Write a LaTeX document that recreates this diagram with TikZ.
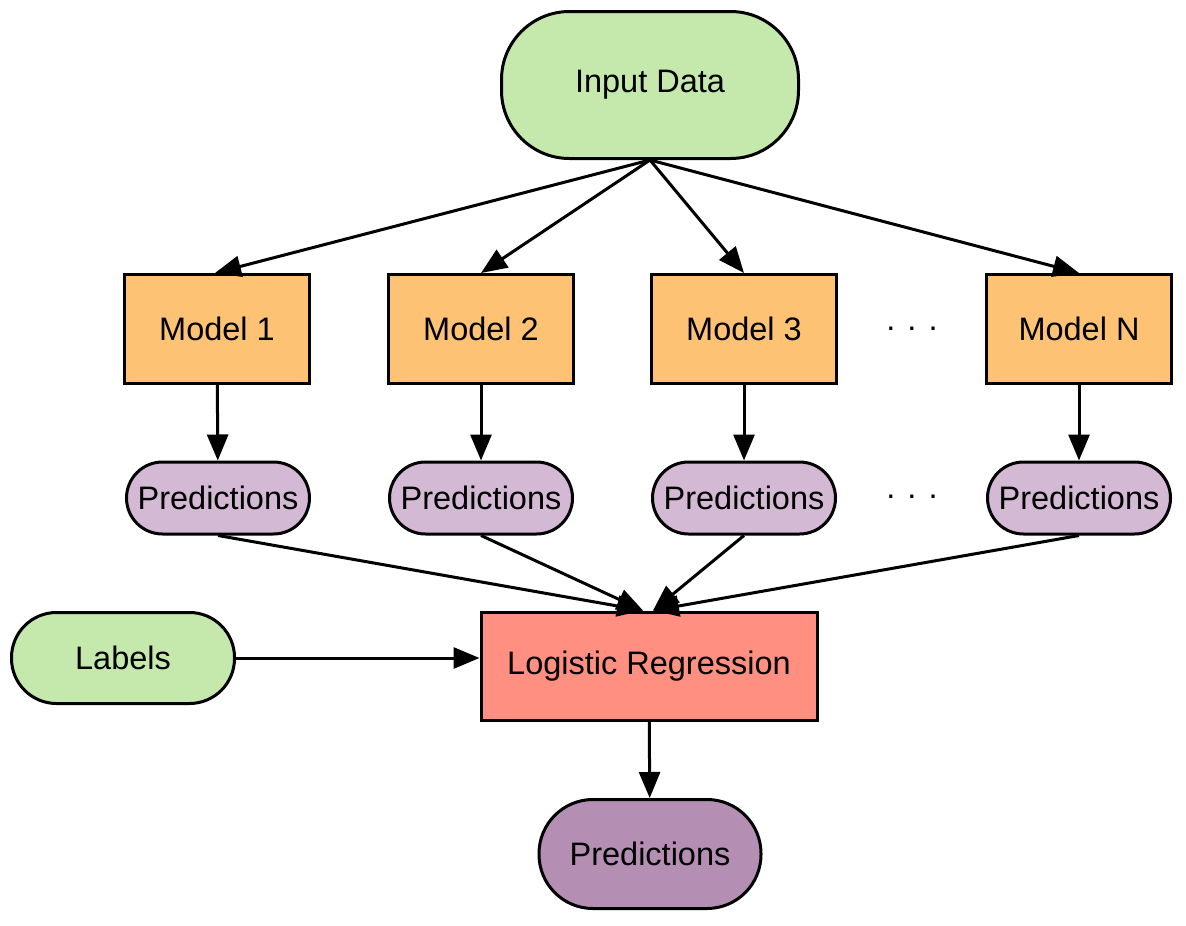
\documentclass[tikz,border=0pt]{standalone}
\usepackage{fontspec}
\setmainfont{Liberation Sans}
\usetikzlibrary{arrows.meta}
\definecolor{cgreen}{HTML}{C5E8AD}
\definecolor{corange}{HTML}{FDC274}
\definecolor{clpurple}{HTML}{D3B9D3}
\definecolor{csalmon}{HTML}{FF8F80}
\definecolor{cdpurple}{HTML}{B48FB3}
\tikzset{
  base/.style={draw=black, line width=3pt, inner sep=0pt, font=\fontsize{32.5}{38}\selectfont, text=black},
  terminal/.style={base, rounded corners=#1},
  modelbox/.style={base, fill=corange, minimum width=185pt, minimum height=109pt},
  predbox/.style={base, fill=clpurple, rounded corners=36pt, minimum width=183pt, minimum height=72pt},
  arr/.style={line width=3pt, -{Triangle[length=26pt,width=21pt]}},
  dotsnode/.style={font=\fontsize{32.5}{38}\selectfont}
}
\begin{document}
\begin{tikzpicture}[x=1pt,y=-1pt]
\useasboundingbox (0,0) rectangle (1186,926);
\node[terminal=68pt, fill=cgreen, minimum width=297pt, minimum height=147pt] (input) at (650,85) {Input Data};
\node[modelbox] (m1) at (217,329) {Model 1};
\node[modelbox] (m2) at (481,329) {Model 2};
\node[modelbox] (m3) at (744,329) {Model 3};
\node[modelbox] (mN) at (1079,329) {Model N};
\node[dotsnode] (d1) at (912,329) {. . .};
\node[predbox] (p1) at (218,498) {Predictions};
\node[predbox] (p2) at (481,498) {Predictions};
\node[predbox] (p3) at (744,498) {Predictions};
\node[predbox] (pN) at (1079,498) {Predictions};
\node[dotsnode] (d2) at (912,497) {. . .};
\node[terminal=45pt, fill=cgreen, minimum width=223pt, minimum height=91pt] (labels) at (123,658) {Labels};
\node[base, fill=csalmon, minimum width=336pt, minimum height=108pt] (lr) at (649,666) {Logistic Regression};
\node[terminal=54pt, fill=cdpurple, minimum width=222pt, minimum height=109pt] (final) at (650,854) {Predictions};
\coordinate (lrin1) at ([xshift=-6pt]lr.north);
\coordinate (lrin2) at ([xshift=4pt]lr.north);
\draw[arr] (input.south) -- ([xshift=-2pt]m1.north);
\draw[arr] (input.south) -- (m2.north);
\draw[arr] (input.south) -- (m3.north);
\draw[arr] (input.south) -- (mN.north);
\draw[arr] (m1) -- (p1);
\draw[arr] (m2) -- (p2);
\draw[arr] (m3) -- (p3);
\draw[arr] (mN) -- (pN);
\draw[arr] (p1.south) -- (lrin1);
\draw[arr] (p2.south) -- (lrin1);
\draw[arr] (p3.south) -- (lrin2);
\draw[arr] (pN.south) -- (lrin2);
\draw[arr] (labels.east) -- (labels.east -| lr.west);
\draw[arr] (lr) -- (final);
\end{tikzpicture}
\end{document}
